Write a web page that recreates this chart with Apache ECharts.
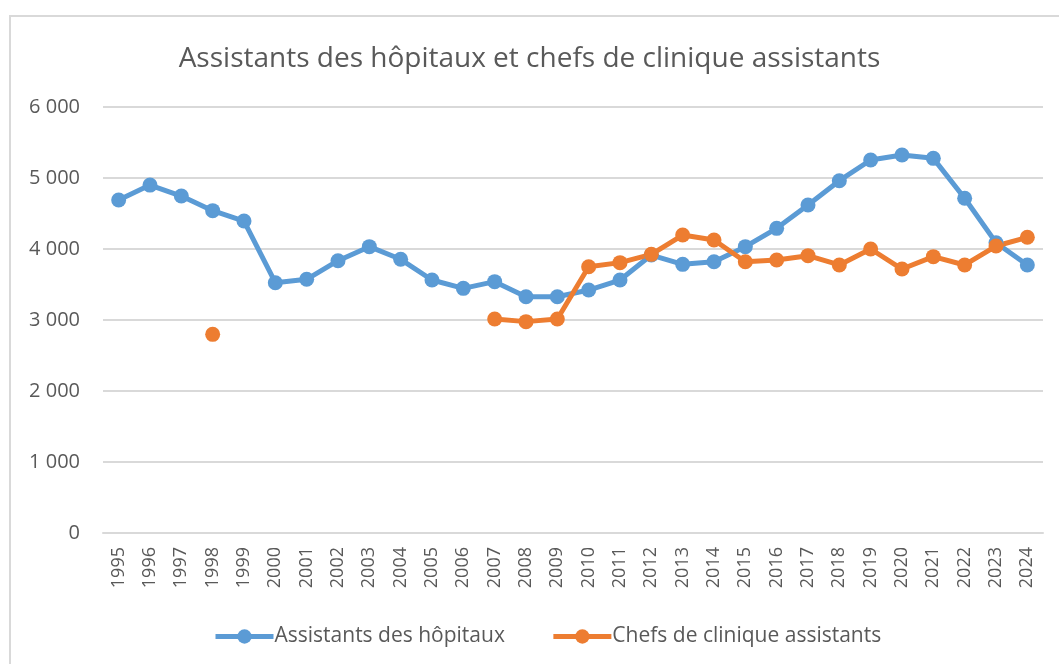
<!DOCTYPE html>
<html>
<head>
<meta charset="utf-8">
<script src="https://cdn.jsdelivr.net/npm/echarts@6/dist/echarts.min.js"></script>
<style>
  html, body { margin: 0; padding: 0; background: #fff; }
  #frame {
    position: absolute; left: 9px; top: 15px; width: 1060px; height: 660px;
    border-top: 2px solid #d9d9d9; border-left: 2px solid #d9d9d9;
  }
  #main { position: absolute; left: 0; top: 0; width: 1059px; height: 664px; }
</style>
</head>
<body>
<div id="frame"></div>
<div id="main"></div>
<script>
// années
var years = ['1995','1996','1997','1998','1999','2000','2001','2002','2003','2004',
  '2005','2006','2007','2008','2009','2010','2011','2012','2013','2014',
  '2015','2016','2017','2018','2019','2020','2021','2022','2023','2024'];

// Assistants des hôpitaux
var assistants = [4690, 4900, 4746, 4540, 4394, 3525, 3573, 3835, 4033, 3855,
  3563, 3446, 3540, 3328, 3328, 3422, 3563, 3915, 3784, 3821,
  4033, 4291, 4620, 4962, 5254, 5324, 5277, 4714, 4089, 3775];

// Chefs de clinique assistants (trous = pas de donnée)
var chefs = [null, null, null, 2798, null, null, null, null, null, null,
  null, null, 3014, 2977, 3014, 3751, 3808, 3925, 4197, 4127,
  3821, 3845, 3906, 3775, 4000, 3718, 3892, 3775, 4042, 4165];

var yTicks = [0, 1000, 2000, 3000, 4000, 5000, 6000];

var chart = echarts.init(document.getElementById('main'));
var font = '"Open Sans", sans-serif';

function fmt(v) {
  // espace comme séparateur des milliers
  return String(v).replace(/\B(?=(\d{3})+(?!\d))/g, ' ');
}

var option = {
  animation: false,
  textStyle: { fontFamily: font },
  title: {
    text: 'Assistants des hôpitaux et chefs de clinique assistants',
    left: 'center',
    top: 40,
    textStyle: { fontFamily: font, fontSize: 28, fontWeight: 'normal', color: '#595959' }
  },
  legend: {
    bottom: 12,
    left: 208,
    itemGap: 46,
    itemWidth: 58,
    itemHeight: 18,
    lineStyle: { width: 5 },
    textStyle: { fontFamily: font, fontSize: 21, color: '#595959', padding: [0, 0, 0, -4] },
    data: ['Assistants des hôpitaux', 'Chefs de clinique assistants']
  },
  grid: { left: 103, right: 16, top: 107, bottom: 131 },
  xAxis: {
    type: 'category',
    data: years,
    boundaryGap: true,
    axisTick: { show: false },
    axisLine: { lineStyle: { color: '#d9d9d9', width: 2 } },
    axisLabel: { rotate: 90, margin: 14, fontSize: 18, color: '#595959', interval: 0, fontFamily: font }
  },
  yAxis: {
    type: 'value',
    min: yTicks[0],
    max: yTicks[yTicks.length - 1],
    interval: 1000,
    axisLine: { show: false },
    axisTick: { show: false },
    splitLine: { lineStyle: { color: '#d9d9d9', width: 2 } },
    axisLabel: { margin: 23, fontSize: 20, color: '#595959', fontFamily: font, formatter: fmt }
  },
  series: [
    {
      name: 'Assistants des hôpitaux',
      type: 'line',
      data: assistants,
      symbol: 'circle',
      symbolSize: 15,
      showAllSymbol: true,
      lineStyle: { width: 5, color: '#5b9bd5' },
      itemStyle: { color: '#5b9bd5' }
    },
    {
      name: 'Chefs de clinique assistants',
      type: 'line',
      data: chefs,
      symbol: 'circle',
      symbolSize: 15,
      showAllSymbol: true,
      connectNulls: false,
      lineStyle: { width: 5, color: '#ed7d31' },
      itemStyle: { color: '#ed7d31' }
    }
  ]
};

chart.setOption(option);
</script>
</body>
</html>
